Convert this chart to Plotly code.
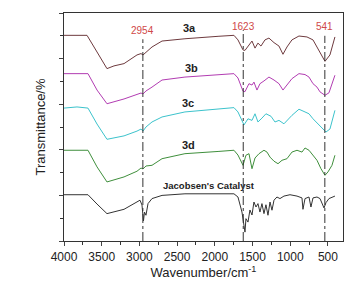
import plotly.graph_objects as go

# ---- data ----
wn_3a = [4000, 3695, 3562, 3430, 3337, 3204, 3032, 2979, 2952, 2913, 2833, 2700, 2396, 1945, 1746, 1693,
         1626, 1600, 1547, 1507, 1467, 1428, 1388, 1335, 1282, 1215, 1149, 1096, 1043, 977, 884, 778,
         698, 645, 579, 539, 473, 407]
t_3a = [9.02, 9.02, 8.29, 7.56, 7.68, 7.78, 8.16, 8.22, 8.16, 8.29, 8.51, 8.77, 8.87, 8.98, 9.02, 8.82,
        8.38, 8.36, 8.60, 8.77, 8.46, 8.68, 8.55, 8.82, 8.90, 8.70, 8.55, 8.19, 8.51, 8.82, 8.99, 8.95,
        8.82, 8.51, 8.16, 7.88, 8.16, 8.95]

wn_3b = [4000, 3682, 3562, 3430, 3204, 3032, 2979, 2952, 2913, 2833, 2700, 2396, 1945, 1746, 1693,
         1626, 1600, 1547, 1507, 1481, 1441, 1401, 1348, 1282, 1215, 1149, 1096, 977, 884, 804, 751,
         698, 645, 605, 539, 486, 407]
t_3b = [7.34, 7.34, 6.62, 6.02, 6.23, 6.42, 6.49, 6.45, 6.58, 6.75, 7.06, 7.19, 7.31, 7.34, 7.15,
        6.57, 6.55, 6.90, 6.84, 6.97, 6.62, 6.90, 7.02, 7.19, 7.06, 6.90, 6.62, 7.12, 7.34, 7.30, 7.19,
        6.90, 6.75, 6.54, 6.39, 6.50, 7.27]

wn_3c = [4000, 3828, 3682, 3562, 3430, 3204, 3032, 2979, 2952, 2913, 2833, 2700, 2396, 1945, 1746, 1693,
         1613, 1560, 1507, 1467, 1428, 1375, 1322, 1255, 1202, 1149, 1083, 977, 884, 804, 751,
         698, 632, 579, 526, 473, 407]
t_3c = [5.83, 5.88, 5.83, 5.13, 4.46, 4.61, 4.82, 4.91, 4.82, 5.00, 5.22, 5.44, 5.66, 5.78, 5.85, 5.66,
        5.09, 5.36, 5.29, 5.58, 5.22, 5.39, 5.58, 5.47, 5.22, 5.29, 5.14, 5.51, 5.78, 5.66, 5.58,
        5.36, 5.14, 4.96, 4.78, 4.91, 5.73]

wn_3d = [4000, 3682, 3562, 3430, 3204, 3032, 2979, 2952, 2913, 2833, 2700, 2396, 1945, 1746, 1693,
         1626, 1587, 1547, 1507, 1467, 1414, 1348, 1308, 1268, 1215, 1162, 1109, 1043, 977, 910, 844,
         804, 751, 698, 645, 592, 539, 499, 446, 407]
t_3d = [3.98, 3.98, 3.25, 2.59, 2.81, 3.06, 3.20, 3.16, 3.29, 3.32, 3.61, 3.83, 3.93, 3.98, 3.77,
        3.32, 3.76, 3.83, 3.17, 3.64, 3.83, 3.98, 3.90, 3.68, 3.50, 3.39, 3.54, 3.61, 3.90, 3.98, 3.90,
        4.08, 3.98, 3.76, 3.54, 3.17, 2.88, 3.03, 3.32, 3.76]

wn_jc = [4000, 3682, 3562, 3430, 3204, 3032, 2992, 2966, 2946, 2933, 2913, 2886, 2833, 2700, 2396, 1746,
         1693, 1640, 1600, 1587, 1560, 1534, 1507, 1481, 1454, 1428, 1401, 1375, 1348, 1322, 1295,
         1268, 1242, 1215, 1176, 1136, 1083, 1003, 910, 844, 831, 804, 751, 725, 698, 645, 605,
         552, 526, 486, 446, 407]
t_jc = [2.03, 2.03, 1.62, 1.20, 1.39, 1.71, 1.79, 1.58, 0.88, 1.27, 1.13, 1.64, 1.86, 2.00, 2.07, 2.07,
        1.93, 1.27, 0.39, 0.98, 0.83, 1.36, 1.14, 1.71, 1.49, 1.64, 1.27, 1.64, 1.20, 1.59, 1.13,
        1.71, 1.35, 1.79, 1.93, 1.86, 1.97, 2.03, 1.97, 1.89, 1.39, 1.86, 1.93, 1.49, 1.89, 1.93, 1.86,
        1.45, 1.68, 1.86, 1.93, 1.97]

series_names = ["3a", "3b", "3c", "3d", "Jacobsen's Catalyst"]
series_colors = ["#6e3a3e", "#b23cb2", "#3cc3cc", "#3f8f3c", "#333333"]
label_wn = [2330, 2310, 2350, 2350, 2080]
label_t = [9.35, 7.6, 6.05, 4.2, 2.45]

peaks = [2954, 1623, 541]
peak_tops = [8.85, 9.25, 9.0]
peak_labels = ["2954", "1623", "541"]
peak_label_t = [9.25, 9.4, 9.4]

x_ticks = [4000, 3500, 3000, 2500, 2000, 1500, 1000, 500]

# ---- figure ----
fig = go.Figure()
all_wn = [wn_3a, wn_3b, wn_3c, wn_3d, wn_jc]
all_t = [t_3a, t_3b, t_3c, t_3d, t_jc]
for wn, t, name, col in zip(all_wn, all_t, series_names, series_colors):
    fig.add_trace(go.Scatter(x=wn, y=t, mode="lines", name=name,
                             line=dict(color=col, width=1), showlegend=False))

for p, top in zip(peaks, peak_tops):
    fig.add_trace(go.Scatter(x=[p, p], y=[0, top], mode="lines", showlegend=False,
                             line=dict(color="#333333", width=1, dash="dashdot")))

for name, lx, ly in zip(series_names, label_wn, label_t):
    size = 9.5 if len(name) > 3 else 11
    fig.add_annotation(x=lx, y=ly, text="<b>%s</b>" % name, showarrow=False,
                       font=dict(family="Liberation Sans, Arial", size=size, color="#222222"))

for p, lab, ly in zip(peaks, peak_labels, peak_label_t):
    fig.add_annotation(x=p, y=ly, text=lab, showarrow=False,
                       font=dict(family="Liberation Sans, Arial", size=10, color="#d04848"))

fig.update_layout(
    width=361, height=284,
    margin=dict(l=56, r=26, t=5, b=51),
    paper_bgcolor="white", plot_bgcolor="white",
    font=dict(family="Liberation Sans, Arial", size=12, color="#222222"),
)
fig.update_xaxes(range=[4000, 300], tickvals=x_ticks, ticks="outside", ticklen=4,
                 minor=dict(dtick=250, ticks="outside", ticklen=3, tickcolor="#333"),
                 showgrid=False, zeroline=False, showline=True, linecolor="#333", linewidth=1.2,
                 mirror=True, tickfont=dict(size=12),
                 title=dict(text="Wavenumber/cm<sup>-1</sup>", font=dict(size=13), standoff=5))
fig.update_yaxes(range=[0, 10], tickvals=[0, 2, 4, 6, 8, 10], showticklabels=False,
                 ticks="outside", ticklen=4,
                 minor=dict(dtick=1, ticks="outside", ticklen=3, tickcolor="#333"),
                 showgrid=False, zeroline=False, showline=True, linecolor="#333", linewidth=1.2,
                 mirror=True,
                 title=dict(text="Transmittance/%", font=dict(size=13), standoff=10))

fig.write_html("out.html")
